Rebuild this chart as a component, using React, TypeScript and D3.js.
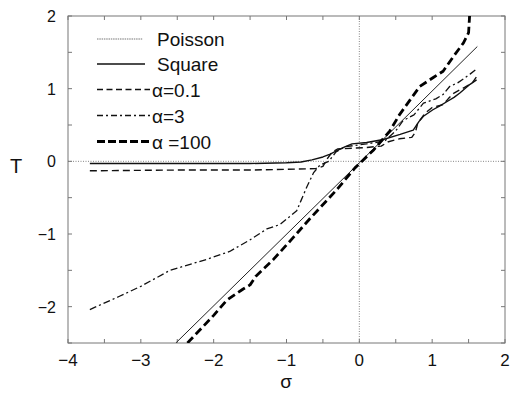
import React from "react";
import * as d3 from "d3";

const W = 512;
const H = 393;

const xTicks = [-4, -3, -2, -1, 0, 1, 2];
const yTicks = [-2, -1, 0, 1, 2];
const minorX = [-4, -3.5, -3, -2.5, -2, -1.5, -1, -0.5, 0, 0.5, 1, 1.5, 2];
const minorY = [-2.5, -2, -1.5, -1, -0.5, 0, 0.5, 1, 1.5, 2];

const poisson: [number, number][] = [
  [-2.52, -2.5], [0, -0.02], [1.62, 1.58],
];

const square: [number, number][] = [
  [-3.7, -0.03], [-2.5, -0.03], [-1.5, -0.03], [-1.0, -0.02], [-0.8, -0.01],
  [-0.65, 0.02], [-0.5, 0.06], [-0.4, 0.1], [-0.3, 0.15], [-0.2, 0.2],
  [-0.1, 0.24], [0.1, 0.26], [0.33, 0.3], [0.56, 0.37], [0.74, 0.43],
  [0.82, 0.55], [0.88, 0.62], [1.01, 0.71], [1.1, 0.76], [1.2, 0.82],
  [1.3, 0.88], [1.38, 0.94], [1.52, 1.06], [1.61, 1.12],
];

const alpha01: [number, number][] = [
  [-3.7, -0.13], [-2.5, -0.12], [-1.5, -0.12], [-1.0, -0.11], [-0.6, -0.1],
  [-0.5, -0.07], [-0.45, 0.02], [-0.38, 0.12], [-0.3, 0.17], [-0.1, 0.18],
  [0.1, 0.19], [0.3, 0.21], [0.4, 0.27], [0.55, 0.31], [0.72, 0.33],
  [0.77, 0.4], [0.8, 0.52], [0.9, 0.66], [1.0, 0.74], [1.15, 0.78],
  [1.22, 0.86], [1.3, 0.94], [1.45, 1.02], [1.55, 1.08], [1.62, 1.18],
];

const alpha3: [number, number][] = [
  [-3.7, -2.04], [-3.3, -1.86], [-3.0, -1.72], [-2.6, -1.5], [-2.1, -1.35],
  [-1.78, -1.24], [-1.5, -1.08], [-1.27, -0.93], [-1.09, -0.87], [-0.86, -0.68],
  [-0.72, -0.35], [-0.63, -0.16], [-0.54, -0.05], [-0.42, 0.0], [-0.32, 0.13],
  [-0.2, 0.2], [0.1, 0.24], [0.35, 0.28], [0.5, 0.42], [0.6, 0.56],
  [0.75, 0.64], [0.88, 0.8], [1.05, 0.86], [1.15, 0.92], [1.24, 1.03],
  [1.35, 1.08], [1.45, 1.15], [1.52, 1.2], [1.62, 1.28],
];

const alpha100: [number, number][] = [
  [-2.36, -2.5], [-2.0, -2.12], [-1.82, -1.91], [-1.6, -1.76], [-1.5, -1.7],
  [-1.42, -1.58], [-1.18, -1.35], [-0.9, -1.04], [-0.68, -0.79], [-0.3, -0.38],
  [-0.06, -0.09], [0.2, 0.16], [0.42, 0.42], [0.55, 0.64], [0.7, 0.85],
  [0.83, 1.03], [1.01, 1.15], [1.15, 1.24], [1.29, 1.44], [1.43, 1.63],
  [1.5, 1.77], [1.52, 2.1],
];

const seriesNames = ["Poisson", "Square", "α=0.1", "α=3", "α =100"];

export default function App() {
  const x = d3.scaleLinear().domain([-4, 2]).range([68, 505]);
  const y = d3.scaleLinear().domain([-2.5, 2]).range([343, 16]);
  const line = d3
    .line<[number, number]>()
    .x((d) => x(d[0]))
    .y((d) => y(d[1]));

  const styles = [
    { data: poisson, stroke: "#222", width: 1, dash: "none", legendStroke: "#777", legendWidth: 1.2, legendDash: "1.5,0.8" },
    { data: square, stroke: "#111", width: 1.4, dash: "none", legendStroke: "#111", legendWidth: 1.5, legendDash: "none" },
    { data: alpha01, stroke: "#111", width: 1.4, dash: "7,4", legendStroke: "#111", legendWidth: 1.3, legendDash: "6,3.5" },
    { data: alpha3, stroke: "#111", width: 1.3, dash: "7,3,2,3", legendStroke: "#111", legendWidth: 1.3, legendDash: "6,3,2,3" },
    { data: alpha100, stroke: "#000", width: 2.8, dash: "8,4", legendStroke: "#000", legendWidth: 2.8, legendDash: "8,3" },
  ];

  const legendY = [39, 64, 89.5, 115.5, 141.5];
  const legendX2 = [143, 145, 150, 150, 152];
  const legendTextX = [157, 157, 152, 152, 152];
  const font = "'Liberation Sans', Arial, Helvetica, sans-serif";

  return (
    <svg
      width={W}
      height={H}
      style={{ position: "absolute", left: 0, top: 0, background: "#fff" }}
      fontFamily={font}
    >
      <defs>
        <clipPath id="plot">
          <rect x={68} y={16} width={437} height={327} />
        </clipPath>
      </defs>
      <rect x={0} y={0} width={W} height={H} fill="#fff" />

      {/* reference dotted lines */}
      <line x1={x(0)} x2={x(0)} y1={y(2)} y2={y(-2.5)} stroke="#666" strokeWidth={0.8} strokeDasharray="1,1.5" />
      <line x1={x(-4)} x2={x(2)} y1={y(0)} y2={y(0)} stroke="#666" strokeWidth={0.8} strokeDasharray="1,1.5" />

      {/* frame */}
      <rect x={68} y={16} width={437} height={327} fill="none" stroke="#777" strokeWidth={1} />

      {/* ticks */}
      {minorX.map((v) => (
        <g key={"tx" + v}>
          <line x1={x(v)} x2={x(v)} y1={y(-2.5)} y2={y(-2.5) - 4} stroke="#777" strokeWidth={1} />
          <line x1={x(v)} x2={x(v)} y1={y(2)} y2={y(2) + 4} stroke="#777" strokeWidth={1} />
        </g>
      ))}
      {minorY.map((v) => (
        <g key={"ty" + v}>
          <line x1={x(-4)} x2={x(-4) + 4} y1={y(v)} y2={y(v)} stroke="#777" strokeWidth={1} />
          <line x1={x(2)} x2={x(2) - 4} y1={y(v)} y2={y(v)} stroke="#777" strokeWidth={1} />
        </g>
      ))}

      {/* tick labels */}
      {xTicks.map((v) => (
        <text key={"lx" + v} x={x(v)} y={366} fontSize={17} textAnchor="middle" fill="#111">
          {v < 0 ? "\u2212" + Math.abs(v) : String(v)}
        </text>
      ))}
      {yTicks.map((v) => (
        <text key={"ly" + v} x={56} y={y(v) + 6} fontSize={16} textAnchor="end" fill="#111">
          {v < 0 ? "\u2212" + Math.abs(v) : String(v)}
        </text>
      ))}

      {/* axis titles */}
      <text x={16} y={173} fontSize={20} textAnchor="middle" fill="#111">T</text>
      <text x={286} y={388} fontSize={19} textAnchor="middle" fill="#111">σ</text>

      {/* curves */}
      <g clipPath="url(#plot)">
        {styles.map((s, i) => (
          <path
            key={"c" + i}
            d={line(s.data) || ""}
            fill="none"
            stroke={s.stroke}
            strokeWidth={s.width}
            strokeDasharray={s.dash}
            strokeLinejoin="round"
          />
        ))}
      </g>

      {/* legend */}
      {styles.map((s, i) => (
        <g key={"lg" + i}>
          <line
            x1={97}
            x2={legendX2[i]}
            y1={legendY[i]}
            y2={legendY[i]}
            stroke={s.legendStroke}
            strokeWidth={s.legendWidth}
            strokeDasharray={s.legendDash}
          />
          <text x={legendTextX[i]} y={legendY[i] + 7} fontSize={19} fill="#111">
            {seriesNames[i]}
          </text>
        </g>
      ))}
    </svg>
  );
}
